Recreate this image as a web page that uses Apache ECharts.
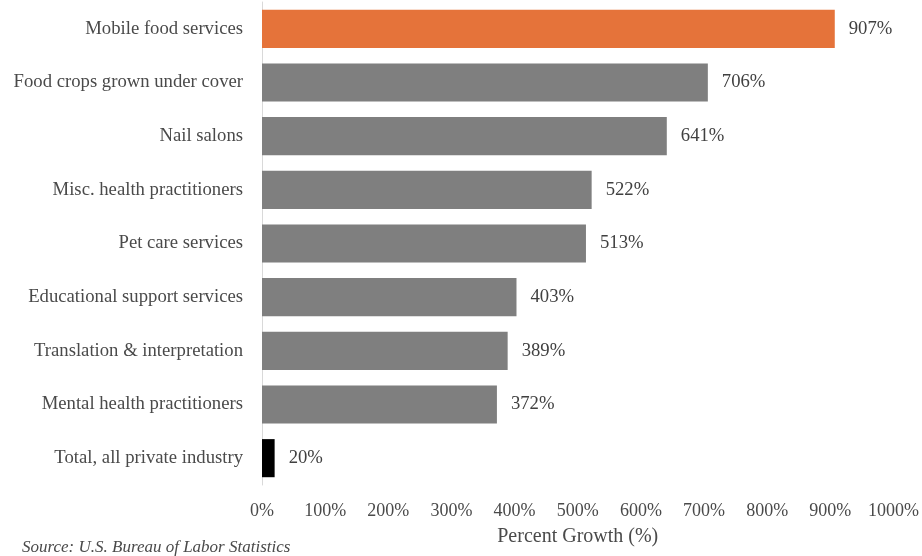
<!DOCTYPE html>
<html>
<head>
<meta charset="utf-8">
<script src="https://cdn.jsdelivr.net/npm/echarts@6/dist/echarts.min.js"></script>
<style>
html,body{margin:0;padding:0;background:#fff;}
#chart{width:922px;height:556px;}
</style>
</head>
<body>
<div id="chart"></div>
<script>
const categories = [
  "Mobile food services",
  "Food crops grown under cover",
  "Nail salons",
  "Misc. health practitioners",
  "Pet care services",
  "Educational support services",
  "Translation & interpretation",
  "Mental health practitioners",
  "Total, all private industry"
];
const growthValues = [907, 706, 641, 522, 513, 403, 389, 372, 20];
const barColors = ["#E5733A", "#7F7F7F", "#7F7F7F", "#7F7F7F", "#7F7F7F", "#7F7F7F", "#7F7F7F", "#7F7F7F", "#000000"];
const xTicks = [0, 100, 200, 300, 400, 500, 600, 700, 800, 900, 1000];

const font = "'Liberation Serif', 'DejaVu Serif', serif";
const textColor = '#4a4a4a';
const chart = echarts.init(document.getElementById('chart'));
chart.setOption({
  animation: false,
  grid: {left: 262, right: 27, top: 2, bottom: 71, containLabel: false},
  xAxis: {
    type: 'value',
    min: xTicks[0],
    max: xTicks[xTicks.length - 1],
    interval: 100,
    axisLine: {show: false},
    axisTick: {show: false},
    splitLine: {show: false},
    axisLabel: {formatter: v => v + '%', fontFamily: font, fontSize: 18, color: textColor, margin: 17},
    name: 'Percent Growth (%)',
    nameLocation: 'middle',
    nameGap: 42,
    nameTextStyle: {fontFamily: font, fontSize: 20, color: textColor}
  },
  yAxis: {
    type: 'category',
    inverse: true,
    data: categories,
    axisLine: {show: true, lineStyle: {color: '#D9D9D9', width: 1}},
    axisTick: {show: false},
    axisLabel: {fontFamily: font, fontSize: 18.7, color: textColor, margin: 19}
  },
  series: [{
    type: 'bar',
    data: growthValues.map((v, i) => ({value: v, itemStyle: {color: barColors[i]}})),
    barCategoryGap: '29%',
    label: {
      show: true,
      position: 'right',
      distance: 14,
      formatter: '{c}%',
      fontFamily: font,
      fontSize: 18.7,
      color: '#404040'
    }
  }],
  graphic: [{
    type: 'text',
    left: 22,
    top: 539,
    style: {text: 'Source: U.S. Bureau of Labor Statistics', font: "italic 17px 'Liberation Serif', serif", fill: textColor}
  }]
});
</script>
</body>
</html>
